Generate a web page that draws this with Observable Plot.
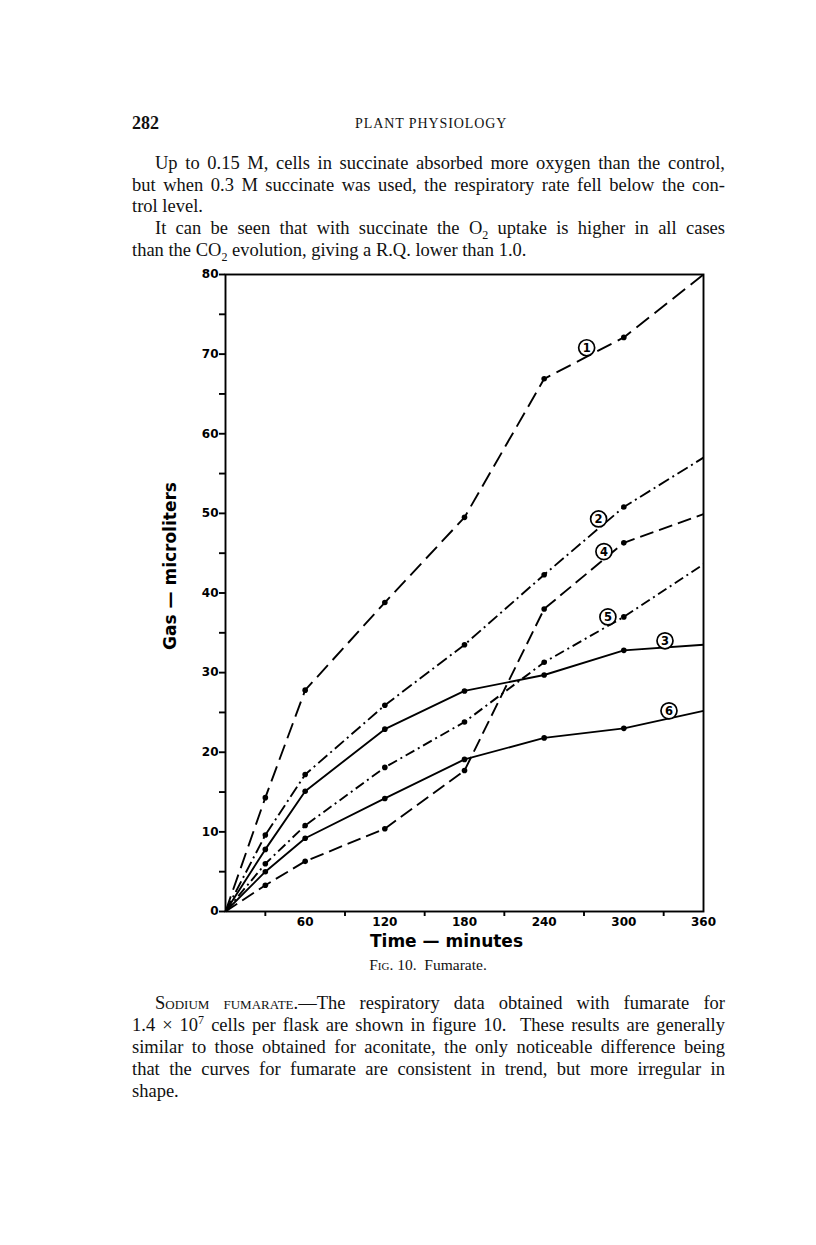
<!DOCTYPE html>
<html>
<head>
<meta charset="utf-8">
<script src="https://cdn.jsdelivr.net/npm/d3@7"></script>
<script src="https://cdn.jsdelivr.net/npm/@observablehq/plot@0.6"></script>
<style>
  html, body { margin: 0; padding: 0; background: #fff; }
  body { width: 816px; height: 1245px; position: relative; overflow: hidden; color: #111; font-family: "Liberation Serif", "DejaVu Serif", serif; }
  .ln { position: absolute; left: 132px; width: 593px; font-size: 18.5px; line-height: 22px; text-align: justify; text-align-last: justify; white-space: nowrap; }
  .ln.last { text-align-last: left; }
  .ind { left: 155px; width: 570px; }
  sub, sup { font-size: 12px; line-height: 0; }
  #hdr-num { position: absolute; left: 132px; top: 113px; font-size: 18px; font-weight: bold; }
  #hdr-title { position: absolute; left: 355px; top: 116px; font-size: 14px; letter-spacing: 0.9px; }
  #chart { position: absolute; left: 140px; top: 260px; }
  #cap { position: absolute; left: 0; width: 856px; top: 956px; text-align: center; font-size: 15.5px; }
  .sc { font-variant: small-caps; }
</style>
</head>
<body>
<div id="hdr-num">282</div>
<div id="hdr-title">PLANT PHYSIOLOGY</div>

<div class="ln ind" style="top:152px">Up to 0.15 M, cells in succinate absorbed more oxygen than the control,</div>
<div class="ln" style="top:174px">but when 0.3 M succinate was used, the respiratory rate fell below the con-</div>
<div class="ln last" style="top:195px">trol level.</div>
<div class="ln ind" style="top:217px">It can be seen that with succinate the O<sub>2</sub> uptake is higher in all cases</div>
<div class="ln last" style="top:239px">than the CO<sub>2</sub> evolution, giving a R.Q. lower than 1.0.</div>

<div id="chart"></div>

<div id="cap"><span class="sc">Fig.</span> 10.&nbsp; Fumarate.</div>

<div class="ln ind" style="top:992px"><span class="sc">Sodium fumarate</span>.—The respiratory data obtained with fumarate for</div>
<div class="ln" style="top:1014px">1.4 × 10<sup>7</sup> cells per flask are shown in figure 10.&nbsp; These results are generally</div>
<div class="ln" style="top:1036px">similar to those obtained for aconitate, the only noticeable difference being</div>
<div class="ln" style="top:1058px">that the curves for fumarate are consistent in trend, but more irregular in</div>
<div class="ln last" style="top:1080px">shape.</div>

<script>
// ---- data ----
const minutes = [0, 30, 60, 120, 180, 240, 300, 360];
const curve1 = [0, 14.3, 27.8, 38.8, 49.5, 66.9, 72.1, 80.0];
const curve2 = [0, 9.6, 17.2, 25.9, 33.5, 42.3, 50.8, 57.0];
const curve3 = [0, 7.8, 15.1, 22.9, 27.7, 29.7, 32.8, 33.5];
const curve4 = [0, 3.3, 6.3, 10.4, 17.7, 38.0, 46.3, 49.9];
const curve5 = [0, 6.0, 10.8, 18.1, 23.8, 31.3, 37.0, 43.6];
const curve6 = [0, 5.0, 9.2, 14.2, 19.1, 21.8, 23.0, 25.2];
const curveNames = ["1", "2", "3", "4", "5", "6"];
const curveDash = ["16,7", "12,4,2,4", "none", "14,6", "10,4,2,4", "none"];

const labelNums = ["1", "2", "4", "5", "3", "6"];
const labelX = [272, 281, 285, 288, 331, 334];
const labelY = [70.8, 49.3, 45.2, 37.0, 34.0, 25.2];

const yMajorTicks = [0, 10, 20, 30, 40, 50, 60, 70, 80];
const yMinorTicks = [5, 15, 25, 35, 45, 55, 65, 75];
const xMajorTicks = [60, 120, 180, 240, 300, 360];
const xMinorTicks = [30, 90, 150, 210, 270, 330];

// ---- build tables ----
const allCurves = [curve1, curve2, curve3, curve4, curve5, curve6];
const rows = [];
allCurves.forEach((vals, i) => {
  vals.forEach((v, j) => rows.push({curve: curveNames[i], t: minutes[j], v}));
});
const markers = rows.filter(d => d.t > 0 && d.t < 360);
const labels = labelNums.map((n, i) => ({n, x: labelX[i], y: labelY[i]}));

const lineMarks = curveNames.map((c, i) =>
  Plot.line(rows.filter(d => d.curve === c), {
    x: "t", y: "v", stroke: "black", strokeWidth: 1.9,
    strokeDasharray: curveDash[i] === "none" ? null : curveDash[i],
    strokeLinecap: "butt"
  })
);

const font = "DejaVu Sans";
const chart = Plot.plot({
  width: 600,
  height: 695,
  marginLeft: 85,
  marginRight: 37,
  marginTop: 14,
  marginBottom: 44,
  x: {domain: [0, 360], label: null},
  y: {domain: [0, 80], label: null},
  style: {fontFamily: font, background: "transparent", color: "black"},
  marks: [
    ...lineMarks,
    Plot.dot(markers, {x: "t", y: "v", r: 2.8, fill: "black"}),
    Plot.dot(labels, {x: "x", y: "y", r: 8, fill: "white", stroke: "black", strokeWidth: 1.7}),
    Plot.text(labels, {x: "x", y: "y", text: "n", fontSize: 11.5, fontWeight: "bold", fontFamily: font, dy: 0.5}),
    Plot.frame({stroke: "black", strokeWidth: 1.9}),
    Plot.axisY({ticks: yMajorTicks, tickSize: 6, tickPadding: 1, strokeWidth: 1.9, fontSize: 12, fontWeight: "bold", fontFamily: font, label: null}),
    Plot.axisY({ticks: yMinorTicks, tickSize: 6, tickFormat: () => "", strokeWidth: 1.9, label: null}),
    Plot.axisX({ticks: xMajorTicks, tickSize: 0, tickPadding: 6, fontSize: 12, fontWeight: "bold", fontFamily: font, label: null}),
    Plot.axisX({ticks: xMinorTicks, tickSize: 5, tickFormat: () => "", strokeWidth: 1.9, label: null}),
    Plot.text(["Time — minutes"], {frameAnchor: "bottom", dx: -18, dy: 35, fontSize: 17, fontWeight: "bold", fontFamily: font}),
    Plot.text(["Gas — microliters"], {frameAnchor: "left", textAnchor: "middle", dx: -55, dy: -27, rotate: -90, fontSize: 17, fontWeight: "bold", fontFamily: font})
  ]
});
document.getElementById("chart").appendChild(chart);
</script>
</body>
</html>
